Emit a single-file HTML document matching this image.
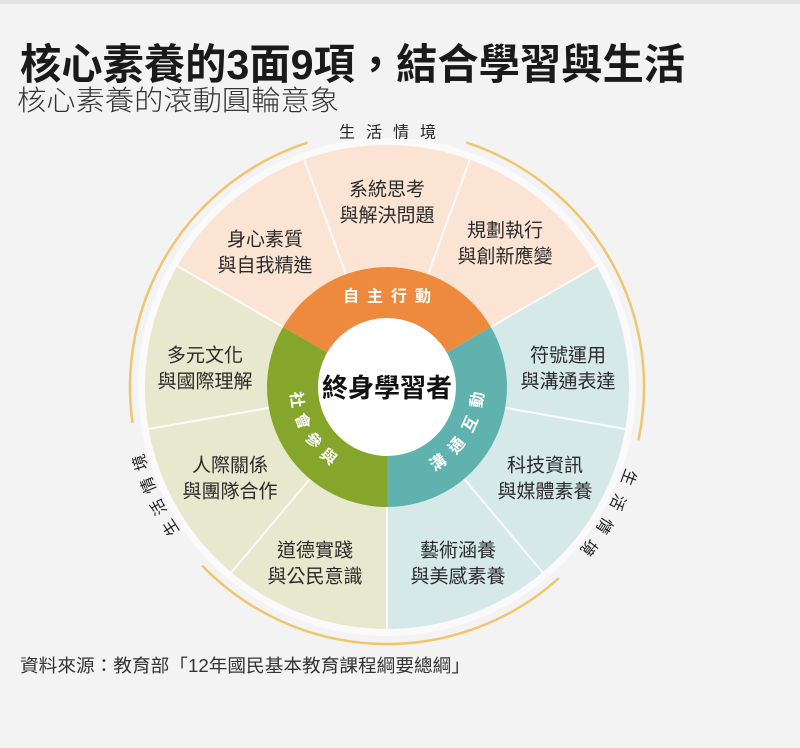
<!DOCTYPE html>
<html><head><meta charset="utf-8"><style>
html,body{margin:0;padding:0;background:#f3f3f3;}
body{width:800px;height:748px;overflow:hidden;position:relative;font-family:"Liberation Sans","Noto Sans CJK TC",sans-serif;}
</style></head><body>
<svg width="800" height="748" viewBox="0 0 800 748" xmlns="http://www.w3.org/2000/svg" style="position:absolute;left:0;top:0">
<rect x="0" y="0" width="800" height="748" fill="#f3f3f3"/>
<rect x="0" y="0" width="800" height="4" fill="#e2e2e2"/>
<g font-family="'Liberation Sans','Noto Sans CJK TC',sans-serif">
<text x="20" y="79" font-size="42" font-weight="bold" fill="#1a1a1a" textLength="665" lengthAdjust="spacingAndGlyphs">核心素養的3面9項，結合學習與生活</text>
<text x="17" y="110" font-size="28" fill="#333" font-weight="300" textLength="322" lengthAdjust="spacingAndGlyphs">核心素養的滾動圓輪意象</text>

<circle cx="387" cy="387" r="249" fill="#fafafa"/>
<path d="M387,387 L177.4,266 A242,242 0 0 1 596.6,266 Z" fill="#fbe4d4"/>
<path d="M387,387 L596.6,266 A242,242 0 0 1 387,629 Z" fill="#d5eae8"/>
<path d="M387,387 L387,629 A242,242 0 0 1 177.4,266 Z" fill="#e7e8cd"/>
<g stroke="#fafafa" stroke-width="2">
<line x1="387" y1="387" x2="177.4" y2="266"/>
<line x1="387" y1="387" x2="304.2" y2="159.6"/>
<line x1="387" y1="387" x2="469.8" y2="159.6"/>
<line x1="387" y1="387" x2="596.6" y2="266"/>
<line x1="387" y1="387" x2="625.3" y2="429"/>
<line x1="387" y1="387" x2="542.6" y2="572.4"/>
<line x1="387" y1="387" x2="387" y2="629"/>
<line x1="387" y1="387" x2="231.4" y2="572.4"/>
<line x1="387" y1="387" x2="148.7" y2="429"/>
</g>
<path d="M387,387 L283.1,327 A120,120 0 0 1 490.9,327 Z" fill="#ee8a3e"/>
<path d="M387,387 L490.9,327 A120,120 0 0 1 387,507 Z" fill="#5fb2ae"/>
<path d="M387,387 L387,507 A120,120 0 0 1 283.1,327 Z" fill="#85a62a"/>
<circle cx="387" cy="387" r="69" fill="#ffffff"/>
<text x="387" y="388" font-size="26" text-anchor="middle" dominant-baseline="central" fill="#111" font-weight="bold">終身學習者</text>

<g fill="none" stroke="#efc66f" stroke-width="2.5">
<path d="M466.4,142.6 A257,257 0 0 1 638.4,440.4"/>
<path d="M559,578 A257,257 0 0 1 202.2,565.6"/>
<path d="M132.5,422.8 A257,257 0 0 1 307.6,142.6"/>
</g>

<g font-size="16" fill="#222" text-anchor="middle" dominant-baseline="central">
<text x="347" y="133">生</text><text x="374" y="133">活</text><text x="401" y="133">情</text><text x="428" y="133">境</text>
<text x="387" y="130" transform="rotate(237 387 387)">生</text>
<text x="387" y="130" transform="rotate(242.3 387 387)">活</text>
<text x="387" y="130" transform="rotate(247.6 387 387)">情</text>
<text x="387" y="130" transform="rotate(253 387 387)">境</text>
<text x="387" y="130" transform="rotate(110.5 387 387)">生</text>
<text x="387" y="130" transform="rotate(116.5 387 387)">活</text>
<text x="387" y="130" transform="rotate(122.5 387 387)">情</text>
<text x="387" y="130" transform="rotate(128.5 387 387)">境</text>
</g>

<g font-size="16" fill="#fff" text-anchor="middle" dominant-baseline="central" font-weight="bold">
<text x="351" y="297">自</text><text x="375" y="297">主</text><text x="399" y="297">行</text><text x="423" y="297">動</text>
<text x="387" y="479" transform="rotate(-34 387 387)">溝</text>
<text x="387" y="479" transform="rotate(-50 387 387)">通</text>
<text x="387" y="479" transform="rotate(-66 387 387)">互</text>
<text x="387" y="479" transform="rotate(-82 387 387)">動</text>
<text x="387" y="479" transform="rotate(82 387 387)">社</text>
<text x="387" y="479" transform="rotate(68 387 387)">會</text>
<text x="387" y="479" transform="rotate(54 387 387)">參</text>
<text x="387" y="479" transform="rotate(40 387 387)">與</text>
</g>

<g font-size="19" fill="#2a2a2a" text-anchor="middle" dominant-baseline="central">
<text x="265" y="240">身心素質</text><text x="265" y="266">與自我精進</text>
<text x="387" y="190">系統思考</text><text x="387" y="216">與解決問題</text>
<text x="505" y="231">規劃執行</text><text x="505" y="257">與創新應變</text>
<text x="205" y="356">多元文化</text><text x="205" y="382">與國際理解</text>
<text x="568" y="356">符號運用</text><text x="568" y="382">與溝通表達</text>
<text x="230" y="466">人際關係</text><text x="230" y="492">與團隊合作</text>
<text x="545" y="466">科技資訊</text><text x="545" y="492">與媒體素養</text>
<text x="315" y="551">道德實踐</text><text x="315" y="577">與公民意識</text>
<text x="458" y="551">藝術涵養</text><text x="458" y="577">與美感素養</text>
</g>

<text x="20" y="672" font-size="18" fill="#333" textLength="450" lengthAdjust="spacingAndGlyphs">資料來源：教育部「12年國民基本教育課程綱要總綱」</text>
</g>
</svg>
</body></html>
